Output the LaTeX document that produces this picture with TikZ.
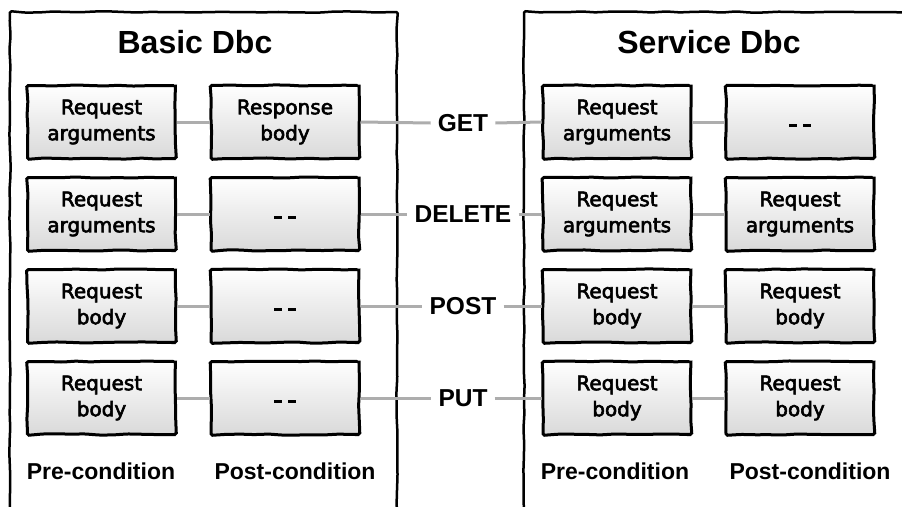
\documentclass[tikz,border=0pt]{standalone}
\usepackage{fontspec}
\setmainfont{Liberation Sans}
\newfontfamily\boxfont[FakeBold=3]{DejaVu Sans}
\usetikzlibrary{decorations.pathmorphing}
\pgfmathsetseed{7}
\newcommand{\dsh}{\smash{\raisebox{-5pt}{\rule{8pt}{2.6pt}\hspace{6pt}\rule{8pt}{2.6pt}}}}
\tikzset{
  sketch/.style={decorate, decoration={random steps, segment length=14pt, amplitude=0.6pt}, rounded corners=1.5pt},
  cont/.style={draw=black, line width=2.5pt, sketch},
  bx/.style={draw=black, line width=3pt, minimum width=148pt, minimum height=73pt, inner sep=0pt,
    top color=white, bottom color=black!15, align=center, sketch,
    font=\boxfont\fontsize{20}{26}\selectfont},
  conn/.style={draw=black!32, line width=3pt},
  ttl/.style={font=\bfseries\fontsize{32}{36}\selectfont},
  verb/.style={font=\bfseries\fontsize{24.5}{30}\selectfont, inner sep=7pt},
  cond/.style={font=\bfseries\fontsize{23}{28}\selectfont}
}
\begin{document}
\begin{tikzpicture}[x=1pt,y=-1pt]
\useasboundingbox (0,0) rectangle (902,506);
\clip (0,0) rectangle (902,506);
% containers
\draw[cont] (10,512) -- (10,12) -- (397,12) -- (397,512);
\draw[cont] (524,512) -- (524,12) -- (915,12) -- (915,512);
\node[ttl] (t1) at (195,42) {Basic Dbc};
\node[ttl] (t2) at (709,42) {Service Dbc};
% left boxes
\node[bx] (a1) at (101.5,122) {Request\\arguments};
\node[bx] (b1) at (285,122) {Response\\body};
\node[bx] (a2) at (101.5,214) {Request\\arguments};
\node[bx] (b2) at (285,214) {\dsh};
\node[bx] (a3) at (101.5,306) {Request\\body};
\node[bx] (b3) at (285,306) {\dsh};
\node[bx] (a4) at (101.5,398) {Request\\body};
\node[bx] (b4) at (285,398) {\dsh};
% right boxes
\node[bx] (c1) at (617,122) {Request\\arguments};
\node[bx] (d1) at (800,122) {\dsh};
\node[bx] (c2) at (617,214) {Request\\arguments};
\node[bx] (d2) at (800,214) {Request\\arguments};
\node[bx] (c3) at (617,306) {Request\\body};
\node[bx] (d3) at (800,306) {Request\\body};
\node[bx] (c4) at (617,398) {Request\\body};
\node[bx] (d4) at (800,398) {Request\\body};
% verbs
\node[verb] (v1) at (463,123) {GET};
\node[verb] (v2) at (463,214) {DELETE};
\node[verb] (v3) at (463,306) {POST};
\node[verb] (v4) at (463,398) {PUT};
% connectors
\foreach \i in {1,2,3,4}{
  \draw[conn] (a\i.east) -- (b\i.west);
  \draw[conn] (b\i.east) -- (v\i.west);
  \draw[conn] (v\i.east) -- (c\i.west);
  \draw[conn] (c\i.east) -- (d\i.west);
}
% condition labels
\node[cond] (p1) at (101,471) {Pre-condition};
\node[cond] (q1) at (295,471) {Post-condition};
\node[cond] (p2) at (615,471) {Pre-condition};
\node[cond] (q2) at (810,471) {Post-condition};
\end{tikzpicture}
\end{document}
